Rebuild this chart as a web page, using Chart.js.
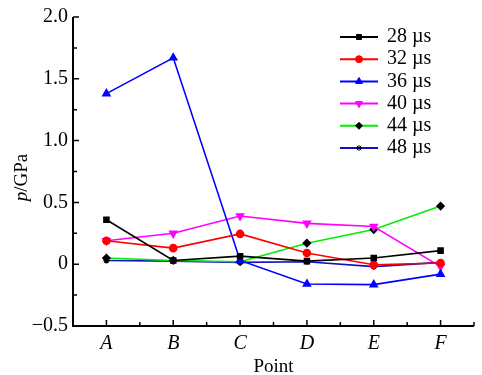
<!DOCTYPE html>
<html>
<head>
<meta charset="utf-8">
<script src="https://cdn.jsdelivr.net/npm/chart.js@4/dist/chart.umd.min.js"></script>
<style>
  html, body { margin: 0; padding: 0; background: #fff; }
  #wrap { width: 482px; height: 375px; }
</style>
</head>
<body>
<div id="wrap"><canvas id="pressure"></canvas></div>
<script>
var categories = ['A', 'B', 'C', 'D', 'E', 'F'];
var seriesLabels = ['28 \u00b5s', '32 \u00b5s', '36 \u00b5s', '40 \u00b5s', '44 \u00b5s', '48 \u00b5s'];
var p28 = [0.36, 0.03, 0.065, 0.025, 0.05, 0.11];
var p32 = [0.19, 0.13, 0.245, 0.09, -0.005, 0.01];
var p36 = [1.38, 1.67, 0.03, -0.16, -0.165, -0.08];
var p40 = [0.19, 0.25, 0.39, 0.33, 0.305, -0.02];
var p44 = [0.05, 0.03, 0.02, 0.17, 0.28, 0.47];
var p48 = [0.03, 0.025, 0.015, 0.02, -0.02, 0.015];
var yTicks = [-0.5, 0, 0.5, 1.0, 1.5, 2.0];

var serif = '"Liberation Serif", "DejaVu Serif", serif';

function series(label, data, color, style, pointColor, radius, rotation) {
    return {
        label: label,
        data: data,
        borderColor: color,
        backgroundColor: pointColor,
        pointBackgroundColor: pointColor,
        pointBorderColor: pointColor,
        pointStyle: style,
        pointRadius: radius,
        pointRotation: rotation || 0,
        borderWidth: 1.6,
        tension: 0
    };
}

var datasets = [
    series(seriesLabels[0], p28, '#000000', 'rect', '#000000', 3.5),
    series(seriesLabels[1], p32, '#ff0000', 'circle', '#ff0000', 3.5),
    series(seriesLabels[2], p36, '#0000ff', 'triangle', '#0000ff', 4),
    series(seriesLabels[3], p40, '#ff00ff', 'triangle', '#ff00ff', 4, 180),
    series(seriesLabels[4], p44, '#00ee00', 'rectRot', '#000000', 3.5),
    series(seriesLabels[5], p48, '#1010c0', 'star', '#000000', 3)
];

// axis lines, inward ticks, y title and the legend box
var decorations = {
    id: 'decorations',
    afterDraw: function(chart) {
        var ctx = chart.ctx, a = chart.chartArea;
        var xs = chart.scales.x, ys = chart.scales.y;
        ctx.save();
        ctx.strokeStyle = '#000';
        ctx.lineWidth = 2;
        ctx.beginPath();
        ctx.moveTo(a.left, a.top);
        ctx.lineTo(a.left, a.bottom);
        ctx.lineTo(a.right, a.bottom);
        ctx.stroke();

        ctx.lineWidth = 1.5;
        ctx.beginPath();
        for (var k = 0; k <= 10; k++) {
            var v = -0.5 + k * 0.25;
            var py = ys.getPixelForValue(v);
            var len = k % 2 === 0 ? 6 : 4;
            ctx.moveTo(a.left, py);
            ctx.lineTo(a.left + len, py);
        }
        var centers = categories.map(function(c, i) { return xs.getPixelForValue(i); });
        var step = centers[1] - centers[0];
        centers.forEach(function(cx) {
            ctx.moveTo(cx, a.bottom);
            ctx.lineTo(cx, a.bottom - 6);
            ctx.moveTo(cx + step / 2, a.bottom);
            ctx.lineTo(cx + step / 2, a.bottom - 4);
        });
        ctx.stroke();

        // y title: italic p followed by /GPa
        ctx.translate(22, (a.top + a.bottom) / 2 + 6);
        ctx.rotate(-Math.PI / 2);
        ctx.fillStyle = '#000';
        ctx.textBaseline = 'middle';
        ctx.font = 'italic 19px ' + serif;
        var w1 = ctx.measureText('p').width;
        ctx.font = '19px ' + serif;
        var w2 = ctx.measureText('/GPa').width;
        var x0 = -(w1 + w2) / 2;
        ctx.font = 'italic 19px ' + serif;
        ctx.textAlign = 'left';
        ctx.fillText('p', x0, 0);
        ctx.font = '19px ' + serif;
        ctx.fillText('/GPa', x0 + w1, 0);
        ctx.restore();

        // legend
        ctx.save();
        chart.data.datasets.forEach(function(ds, i) {
            var ly = 37 + i * 22.2;
            ctx.strokeStyle = ds.borderColor;
            ctx.lineWidth = 2;
            ctx.beginPath();
            ctx.moveTo(340, ly);
            ctx.lineTo(378, ly);
            ctx.stroke();
            ctx.fillStyle = ds.pointBackgroundColor;
            ctx.strokeStyle = ds.pointBorderColor;
            ctx.lineWidth = 1;
            Chart.helpers.drawPoint(ctx, {
                pointStyle: ds.pointStyle,
                radius: ds.pointRadius,
                rotation: ds.pointRotation,
                borderWidth: 1
            }, 359, ly);
            ctx.fillStyle = '#000';
            ctx.font = '20px ' + serif;
            ctx.textAlign = 'left';
            ctx.textBaseline = 'middle';
            ctx.fillText(ds.label, 387, ly);
        });
        ctx.restore();
    }
};

var g = document.getElementById('pressure').getContext('2d');

var pressureChart = new Chart(g, {
    type: 'line',
    data: {
        labels: categories,
        datasets: datasets
    },
    options: {
        responsive: true,
        maintainAspectRatio: false,
        animation: false,
        devicePixelRatio: 1,
        layout: { padding: { top: 15, right: 8, bottom: 0, left: 0 } },
        plugins: {
            legend: { display: false },
            tooltip: { enabled: false }
        },
        scales: {
            x: {
                type: 'category',
                offset: true,
                grid: { display: false, drawTicks: false },
                border: { display: false },
                ticks: {
                    color: '#000',
                    padding: 6,
                    font: { family: serif, size: 20, style: 'italic' }
                },
                title: {
                    display: true,
                    text: 'Point',
                    color: '#000',
                    padding: { top: 0, bottom: -3 },
                    font: { family: serif, size: 19 }
                },
                afterFit: function(scale) { scale.height = 49; }
            },
            y: {
                min: -0.5,
                max: 2.0,
                grid: { display: false, drawTicks: false },
                border: { display: false },
                afterBuildTicks: function(scale) {
                    scale.ticks = yTicks.map(function(v) { return { value: v }; });
                },
                ticks: {
                    color: '#000',
                    padding: 5,
                    font: { family: serif, size: 20 },
                    callback: function(v) {
                        if (v === 0) return '0';
                        return (v < 0 ? '\u2212' : '') + Math.abs(v).toFixed(1);
                    }
                },
                afterFit: function(scale) { scale.width = 73; }
            }
        }
    },
    plugins: [decorations]
});
</script>
</body>
</html>
